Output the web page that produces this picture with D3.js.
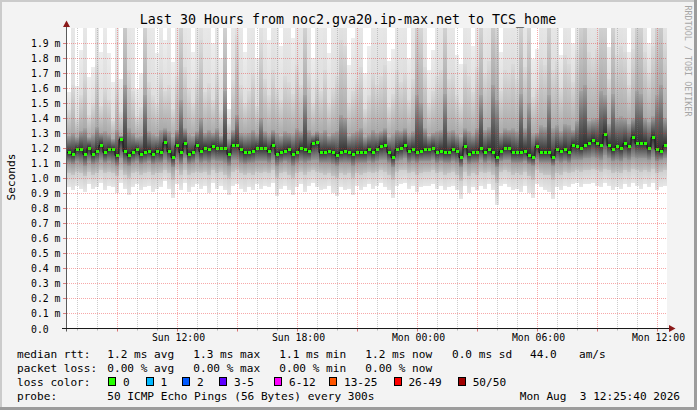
<!DOCTYPE html>
<html><head><meta charset="utf-8">
<script src="https://cdn.jsdelivr.net/npm/d3@7"></script>
<style>
html,body{margin:0;padding:0;background:#f3f3f3;}
svg{display:block;}
text{font-family:"DejaVu Sans Mono",monospace;white-space:pre;}
</style></head><body>
<svg id="chart" width="697" height="410"></svg>
<script>
// ---------------- DATA ----------------
const titleText = "Last 30 Hours from noc2.gva20.ip-max.net to TCS_home";
const yAxisTitle = "Seconds";
const watermark = "RRDTOOL / TOBI OETIKER";
const startTime = "2026-08-02T06:30:00Z";
const endTime   = "2026-08-03T12:30:00Z";

// median rtt per 12-minute column (ms)
const median = [
 1.17,1.16,1.19,1.19,1.16,1.20,1.16,1.18,1.22,1.17,
 1.19,1.19,1.15,1.26,1.18,1.15,1.17,1.19,1.16,1.17,
 1.18,1.16,1.18,1.17,1.24,1.18,1.14,1.22,1.17,1.23,
 1.16,1.17,1.22,1.18,1.20,1.19,1.21,1.20,1.20,1.20,
 1.16,1.22,1.22,1.19,1.17,1.17,1.18,1.20,1.20,1.20,
 1.18,1.22,1.16,1.17,1.18,1.19,1.16,1.17,1.20,1.19,
 1.18,1.23,1.24,1.17,1.17,1.18,1.17,1.15,1.17,1.18,
 1.17,1.16,1.17,1.17,1.17,1.19,1.17,1.19,1.21,1.22,
 1.17,1.14,1.19,1.20,1.22,1.18,1.19,1.17,1.18,1.19,
 1.19,1.20,1.17,1.18,1.17,1.17,1.19,1.18,1.14,1.21,
 1.16,1.17,1.17,1.20,1.17,1.19,1.17,1.14,1.18,1.20,
 1.20,1.17,1.17,1.17,1.18,1.15,1.14,1.21,1.17,1.17,
 1.17,1.14,1.19,1.18,1.19,1.17,1.22,1.21,1.20,1.22,
 1.23,1.25,1.23,1.22,1.29,1.22,1.19,1.21,1.20,1.23,
 1.21,1.27,1.23,1.23,1.23,1.20,1.27,1.19,1.18,1.22
];
const minPing = [
 0.94,0.92,0.95,0.93,0.91,0.96,0.93,0.94,0.97,0.92,
 0.95,0.94,0.90,0.97,0.93,0.89,0.94,0.96,0.92,0.94,
 0.95,0.91,0.93,0.94,0.98,0.93,0.87,0.96,0.92,0.97,
 0.91,0.94,0.96,0.93,0.95,0.90,0.97,0.93,0.95,0.92,
 0.89,0.95,0.96,0.93,0.91,0.94,0.92,0.96,0.93,0.95,
 0.94,0.97,0.88,0.93,0.95,0.92,0.89,0.94,0.96,0.91,
 0.95,0.97,0.94,0.92,0.93,0.95,0.90,0.88,0.94,0.92,
 0.93,0.89,0.95,0.92,0.94,0.96,0.93,0.95,0.97,0.94,
 0.92,0.87,0.95,0.96,0.97,0.93,0.95,0.91,0.94,0.95,
 0.95,0.96,0.93,0.95,0.92,0.94,0.95,0.92,0.86,0.95,
 0.90,0.94,0.92,0.95,0.93,0.96,0.92,0.82,0.95,0.96,
 0.94,0.92,0.93,0.91,0.95,0.90,0.87,0.96,0.94,0.92,
 0.91,0.86,0.94,0.92,0.95,0.94,0.96,0.97,0.94,0.96,
 0.96,0.97,0.95,0.94,0.97,0.95,0.92,0.94,0.93,0.96,
 0.94,0.97,0.95,0.93,0.96,0.94,0.97,0.92,0.94,0.95
];
const p10 = [
 1.03,1.02,1.04,1.03,1.01,1.04,1.02,1.03,1.05,1.03,
 1.04,1.03,1.01,1.05,1.02,1.00,1.03,1.04,1.02,1.03,
 1.04,1.02,1.03,1.03,1.05,1.03,0.99,1.05,1.02,1.05,
 1.02,1.03,1.04,1.03,1.04,1.02,1.05,1.03,1.04,1.02,
 1.00,1.04,1.05,1.03,1.02,1.03,1.02,1.04,1.03,1.04,
 1.03,1.05,1.00,1.03,1.04,1.02,1.00,1.03,1.04,1.02,
 1.04,1.05,1.04,1.03,1.02,1.03,1.01,1.00,1.03,1.02,
 1.03,1.00,1.03,1.02,1.03,1.04,1.03,1.04,1.05,1.04,
 1.02,0.99,1.04,1.05,1.05,1.03,1.04,1.02,1.03,1.04,
 1.04,1.05,1.03,1.04,1.02,1.03,1.04,1.02,0.98,1.04,
 1.01,1.03,1.02,1.04,1.03,1.04,1.02,0.97,1.04,1.05,
 1.04,1.02,1.03,1.02,1.04,1.01,0.99,1.05,1.03,1.02,
 1.02,0.99,1.03,1.02,1.04,1.03,1.04,1.05,1.04,1.05,
 1.05,1.06,1.05,1.04,1.06,1.05,1.03,1.04,1.03,1.05,
 1.04,1.06,1.05,1.04,1.05,1.04,1.06,1.03,1.04,1.05
];
const p25 = [
 1.10,1.09,1.11,1.10,1.08,1.11,1.09,1.10,1.12,1.10,
 1.11,1.10,1.08,1.13,1.09,1.08,1.10,1.11,1.09,1.10,
 1.11,1.09,1.10,1.10,1.12,1.10,1.07,1.12,1.09,1.13,
 1.09,1.10,1.12,1.10,1.11,1.10,1.12,1.11,1.11,1.10,
 1.08,1.12,1.12,1.10,1.09,1.10,1.10,1.11,1.11,1.11,
 1.10,1.12,1.08,1.10,1.11,1.10,1.08,1.10,1.11,1.10,
 1.11,1.12,1.12,1.10,1.10,1.10,1.09,1.08,1.10,1.10,
 1.10,1.08,1.10,1.10,1.10,1.11,1.10,1.11,1.12,1.12,
 1.10,1.07,1.11,1.12,1.13,1.10,1.11,1.10,1.11,1.11,
 1.11,1.12,1.10,1.11,1.10,1.10,1.11,1.10,1.07,1.12,
 1.09,1.10,1.10,1.12,1.10,1.11,1.10,1.07,1.11,1.12,
 1.12,1.10,1.10,1.10,1.11,1.09,1.08,1.12,1.10,1.10,
 1.10,1.08,1.11,1.10,1.11,1.10,1.12,1.12,1.12,1.13,
 1.13,1.14,1.13,1.12,1.15,1.13,1.11,1.12,1.11,1.13,
 1.12,1.14,1.13,1.13,1.13,1.12,1.14,1.11,1.12,1.13
];
const p75 = [
 1.28,1.30,1.27,1.31,1.33,1.27,1.29,1.34,1.30,1.31,
 1.29,1.26,1.32,1.28,1.62,1.33,1.30,1.27,1.28,1.55,
 1.31,1.29,1.28,1.32,1.33,1.31,1.27,1.32,1.52,1.33,
 1.29,1.28,1.31,1.40,1.30,1.32,1.30,1.33,1.28,1.58,
 1.26,1.32,1.42,1.30,1.29,1.30,1.32,1.29,1.40,1.31,
 1.29,1.32,1.30,1.28,1.31,1.30,1.29,1.33,1.31,1.55,
 1.32,1.29,1.31,1.30,1.32,1.28,1.30,1.31,1.42,1.40,
 1.28,1.30,1.31,1.33,1.27,1.29,1.32,1.30,1.31,1.33,
 1.27,1.29,1.32,1.31,1.33,1.29,1.31,1.55,1.50,1.33,
 1.28,1.30,1.31,1.32,1.56,1.31,1.32,1.29,1.27,1.33,
 1.31,1.29,1.33,1.55,1.32,1.34,1.62,1.52,1.30,1.33,
 1.32,1.33,1.31,1.56,1.33,1.50,1.29,1.30,1.35,1.34,
 1.55,1.33,1.35,1.31,1.36,1.35,1.32,1.38,1.58,1.62,
 1.38,1.39,1.40,1.58,1.55,1.36,1.56,1.40,1.41,1.40,
 1.36,1.40,1.58,1.56,1.40,1.37,1.41,1.55,1.62,1.40
];
const p90 = [
 1.45,1.62,1.40,1.55,1.70,1.42,1.50,1.75,1.48,1.60,
 1.52,1.38,1.66,1.44,2.20,1.72,1.58,1.41,1.47,2.10,
 1.64,1.55,1.49,1.70,1.58,1.62,1.46,1.68,2.10,1.74,
 1.60,1.50,1.66,1.92,1.57,1.63,1.52,1.70,1.45,2.10,
 1.36,1.65,1.95,1.62,1.50,1.58,1.70,1.48,1.90,1.66,
 1.55,1.72,1.60,1.52,1.68,1.64,1.56,1.75,1.62,2.10,
 1.70,1.50,1.66,1.58,1.72,1.49,1.60,1.68,1.92,1.88,
 1.50,1.58,1.66,1.74,1.46,1.55,1.70,1.62,1.68,1.75,
 1.47,1.56,1.72,1.64,1.70,1.52,1.66,2.10,2.05,1.74,
 1.50,1.58,1.68,1.72,2.10,1.66,1.70,1.55,1.49,1.76,
 1.68,1.57,1.74,2.10,1.70,1.78,2.20,2.05,1.58,1.72,
 1.70,1.76,1.66,2.10,1.74,2.05,1.54,1.60,1.80,1.75,
 2.10,1.72,1.78,1.60,1.82,1.76,1.64,1.85,2.10,2.20,
 1.84,1.80,1.86,2.10,2.10,1.66,2.10,1.82,1.88,1.84,
 1.62,1.86,2.10,2.10,1.84,1.70,1.88,2.10,2.20,1.90
];
const maxPing = [
 1.57,2.20,1.61,1.85,2.20,1.67,1.74,2.30,1.84,2.10,
 1.83,1.64,2.20,1.66,2.50,2.20,2.20,1.59,1.70,2.50,
 2.20,2.20,1.83,2.10,1.92,2.20,1.77,2.20,2.40,2.20,
 2.20,1.84,2.20,2.30,2.20,2.20,1.90,2.20,1.80,2.50,
 1.46,2.20,2.30,2.20,1.84,2.20,2.20,1.80,2.30,2.20,
 1.92,2.20,2.20,1.88,2.20,2.20,1.93,2.20,2.20,2.50,
 2.20,1.80,2.20,2.20,2.20,1.83,2.20,2.20,2.30,2.30,
 1.75,1.93,2.20,2.20,1.70,1.88,2.20,2.20,2.20,2.20,
 1.78,1.86,2.20,2.20,2.20,1.80,2.20,2.40,2.40,2.20,
 1.72,1.85,2.20,2.20,2.40,2.20,2.20,1.82,1.76,2.20,
 2.20,1.88,2.20,2.40,2.20,2.20,2.50,2.40,1.84,2.20,
 2.20,2.20,2.20,2.40,2.20,2.40,1.79,1.86,2.20,2.20,
 2.40,2.20,2.20,1.82,2.20,2.20,1.90,2.20,2.40,2.40,
 2.20,2.20,2.20,2.40,2.40,1.87,2.40,2.20,2.20,2.20,
 1.84,2.20,2.40,2.40,2.20,1.90,2.20,2.40,2.40,2.20
];

const yTickValues = [0.0,0.1,0.2,0.3,0.4,0.5,0.6,0.7,0.8,0.9,1.0,1.1,1.2,1.3,1.4,1.5,1.6,1.7,1.8,1.9];
const yTickLabels = ["0.0","0.1 m","0.2 m","0.3 m","0.4 m","0.5 m","0.6 m","0.7 m","0.8 m","0.9 m","1.0 m","1.1 m","1.2 m","1.3 m","1.4 m","1.5 m","1.6 m","1.7 m","1.8 m","1.9 m"];

const rttStats  = ["median rtt:","1.2 ms avg","1.3 ms max","1.1 ms min","1.2 ms now","0.0 ms sd","44.0","am/s"];
const lossStats = ["packet loss:","0.00 % avg","0.00 % max","0.00 % min","0.00 % now"];
const lossLabels = ["0","1","2","3-5","6-12","13-25","26-49","50/50"];
const lossColors = ["#26ff00","#00b8ff","#0059ff","#5e00ff","#ff00ff","#ff5500","#ff0000","#a10000"];
const probeText = ["probe:","50 ICMP Echo Pings (56 Bytes) every 300s","Mon Aug  3 12:25:40 2026"];

// ---------------- DRAW ----------------
const W = 697, H = 410, L = 67, R = 667, T = 27.5, B = 328.5;
const svg = d3.select("#chart");
const t0 = new Date(startTime), t1 = new Date(endTime);
const x = d3.scaleUtc().domain([t0, t1]).range([L, R]);
const y = d3.scaleLinear().domain([0, 2.0]).range([B, T]);

// background + shading
svg.append("rect").attr("width", W).attr("height", H).attr("fill", "#f3f3f3");
svg.append("path").attr("d", "M0,0H697V2H2V410H0Z").attr("fill", "#cbcbcb");
svg.append("path").attr("d", "M697,0V410H0V407H694V0Z").attr("fill", "#9c9c9c");
svg.append("rect").attr("x", L).attr("y", 28).attr("width", R - L).attr("height", 301).attr("fill", "#fff");

const defs = svg.append("defs");
defs.append("clipPath").attr("id", "plotclip").append("rect")
  .attr("x", L).attr("y", 28).attr("width", R - L).attr("height", 301);
function grad(id, top, bottom) {
  const g = defs.append("linearGradient").attr("id", id)
    .attr("x1", 0).attr("y1", 0).attr("x2", 0).attr("y2", 1);
  g.append("stop").attr("offset", 0).attr("stop-color", top);
  g.append("stop").attr("offset", 1).attr("stop-color", bottom);
}
grad("gUpOuter", "#ededed", "#dedede");
grad("gUpMid",   "#dadada", "#aaaaaa");
grad("gUpCore",  "#a2a2a2", "#303030");
grad("gLoCore",  "#303030", "#969696");
grad("gLoMid",   "#9c9c9c", "#c6c6c6");
grad("gLoOuter", "#d0d0d0", "#e6e6e6");

const step = (t1 - t0) / median.length;
const cols = median.map((m, i) => ({
  a: new Date(+t0 + i * step), b: new Date(+t0 + (i + 1) * step),
  med: m, min: minPing[i], p10: p10[i], p25: p25[i], p75: p75[i], p90: p90[i], max: maxPing[i]
}));

const plot = svg.append("g").attr("clip-path", "url(#plotclip)");
function band(lo, hi, fill) {
  plot.append("g").selectAll("rect").data(cols).join("rect")
    .attr("x", d => x(d.a)).attr("width", d => x(d.b) - x(d.a))
    .attr("y", d => y(d[hi])).attr("height", d => Math.max(0, y(d[lo]) - y(d[hi])))
    .attr("fill", fill).attr("shape-rendering", "crispEdges");
}
band("p90", "max", "url(#gUpOuter)");
band("p75", "p90", "url(#gUpMid)");
band("med", "p75", "url(#gUpCore)");
band("p25", "med", "url(#gLoCore)");
band("p10", "p25", "url(#gLoMid)");
band("min", "p10", "url(#gLoOuter)");

// median step connectors + marks
const stepPts = cols.map(d => [x(d.a), Math.round(y(d.med)) + 0.5]);
stepPts.push([R, Math.round(y(median[median.length - 1])) + 0.5]);
plot.append("path").attr("d", d3.line().curve(d3.curveStepAfter)(stepPts))
  .attr("fill", "none").attr("stroke", "#151515").attr("stroke-width", 1);
plot.append("g").selectAll("rect").data(cols).join("rect")
  .attr("x", d => x(d.a) + 0.5).attr("width", 3)
  .attr("y", d => Math.round(y(d.med)) - 1).attr("height", 3)
  .attr("fill", "#26ff00").attr("shape-rendering", "crispEdges");

// grid
const grid = svg.append("g");
const hours = d3.utcHour.every(1).range(t0, t1);
hours.forEach(h => {
  const xx = Math.round(x(h)) + 0.5;
  const major = h.getUTCHours() % 3 === 0;
  grid.append("line").attr("x1", xx).attr("x2", xx).attr("y1", 28).attr("y2", B)
    .attr("stroke", major ? "rgba(235,30,30,0.38)" : "rgba(120,120,120,0.38)")
    .attr("stroke-dasharray", "1,1");
  grid.append("line").attr("x1", xx).attr("x2", xx).attr("y1", B).attr("y2", major ? B + 3 : B + 2)
    .attr("stroke", major ? "rgba(200,30,30,0.6)" : "rgba(120,120,120,0.5)");
});
yTickValues.forEach(v => {
  if (v === 0) return;
  const yy = Math.round(y(v)) + 0.5;
  grid.append("line").attr("x1", L).attr("x2", R).attr("y1", yy).attr("y2", yy)
    .attr("stroke", "rgba(235,30,30,0.38)").attr("stroke-dasharray", "1,1");
  grid.append("line").attr("x1", 63).attr("x2", L).attr("y1", yy).attr("y2", yy)
    .attr("stroke", "rgba(200,30,30,0.55)");
});

// axes
svg.append("line").attr("x1", 66.5).attr("x2", 66.5).attr("y1", B + 3).attr("y2", 26)
  .attr("stroke", "#5a5a5a");
svg.append("line").attr("x1", 62).attr("x2", 670).attr("y1", B).attr("y2", B)
  .attr("stroke", "#1a1a1a");
svg.append("path").attr("d", "M66.5,20.5L70,27L63,27Z").attr("fill", "#8b1a1a");
svg.append("path").attr("d", "M675.5,328.5L669,325L669,332Z").attr("fill", "#8b1a1a");

// y labels
svg.append("g").selectAll("text").data(yTickValues).join("text")
  .attr("x", 31).attr("y", v => Math.round(y(v)) + 4)
  .attr("font-size", "9.8px").attr("fill", "#000")
  .text((v, i) => yTickLabels[i]);

// x labels
const fmt = d3.utcFormat("%a %H:%M");
svg.append("g").selectAll("text").data(hours.filter(h => h.getUTCHours() % 6 === 0)).join("text")
  .attr("x", h => Math.round(x(h)) + 1.5).attr("y", 341)
  .attr("text-anchor", "middle").attr("font-size", "9.8px").attr("fill", "#000")
  .text(fmt);

// title, axis title, watermark
svg.append("text").attr("x", 348).attr("y", 24).attr("text-anchor", "middle")
  .attr("font-size", "13.3px").attr("fill", "#000").text(titleText);
svg.append("text").attr("transform", "translate(15,177) rotate(-90)").attr("text-anchor", "middle")
  .attr("font-size", "11.1px").attr("fill", "#000").text(yAxisTitle);
svg.append("text").attr("transform", "translate(684.5,5.5) rotate(90)")
  .attr("font-size", "8.4px").attr("fill", "#a6a6a6").text(watermark);

// legend
const lg = svg.append("g").attr("font-size", "11.1px").attr("fill", "#000");
const rttX = [17, 107.3, 193.3, 279.3, 365.3, 452, 530, 579];
rttStats.forEach((s, i) => lg.append("text").attr("x", rttX[i]).attr("y", 357.5).text(s));
lossStats.forEach((s, i) => lg.append("text").attr("x", rttX[i]).attr("y", 371.7).text(s));
lg.append("text").attr("x", 17).attr("y", 385.8).text("loss color:");
const boxX = [108.3, 145.7, 182.3, 219.3, 274.3, 329.3, 393.7, 458];
lossLabels.forEach((s, i) => {
  lg.append("rect").attr("x", Math.round(boxX[i]) + 0.5).attr("y", 377.5).attr("width", 7).attr("height", 8)
    .attr("fill", lossColors[i]).attr("stroke", "#000").attr("stroke-width", 1);
  lg.append("text").attr("x", boxX[i] + 14.7).attr("y", 385.8).text(s);
});
lg.append("text").attr("x", 17).attr("y", 400).text(probeText[0]);
lg.append("text").attr("x", 107.3).attr("y", 400).text(probeText[1]);
lg.append("text").attr("x", 680).attr("y", 400).attr("text-anchor", "end").text(probeText[2]);
</script>
</body></html>
